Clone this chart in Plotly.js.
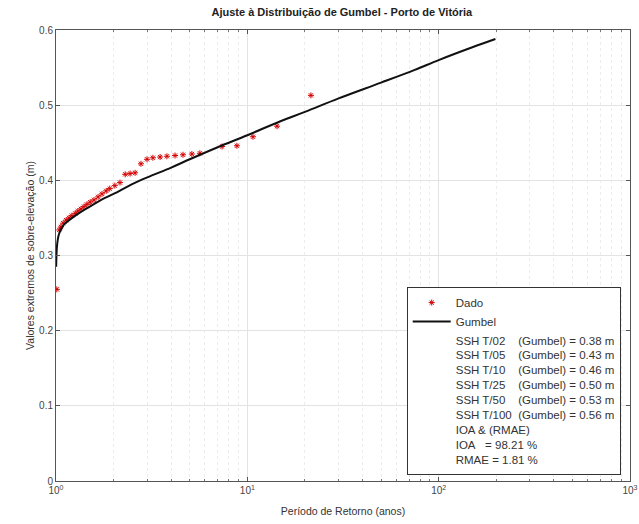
<!DOCTYPE html>
<html>
<head>
<meta charset="utf-8">
<script src="https://cdn.plot.ly/plotly-3.0.1.min.js"></script>
<style>html,body{margin:0;padding:0;background:#fff;}#chart{width:639px;height:524px;}</style>
</head>
<body>
<div id="chart"></div>
<script>
// Observed data (return period in years, value in m)
const T_data = [1.01, 1.04, 1.06, 1.09, 1.13, 1.17, 1.21, 1.26, 1.30, 1.35, 1.40, 1.45, 1.51, 1.58, 1.66, 1.74, 1.83, 1.91, 2.03, 2.16, 2.30, 2.44, 2.59, 2.78, 2.99, 3.21, 3.50, 3.80, 4.19, 4.61, 5.13, 5.65, 7.38, 8.82, 10.7, 14.3, 21.5];
const ssh_data = [0.255, 0.334, 0.338, 0.343, 0.347, 0.350, 0.353, 0.356, 0.359, 0.362, 0.365, 0.368, 0.371, 0.374, 0.378, 0.382, 0.386, 0.389, 0.393, 0.397, 0.408, 0.409, 0.410, 0.422, 0.428, 0.430, 0.431, 0.432, 0.433, 0.434, 0.435, 0.436, 0.445, 0.446, 0.458, 0.472, 0.513];
// Fitted Gumbel curve
const T_fit = [1.002, 1.005, 1.01, 1.02, 1.03, 1.05, 1.1, 1.2, 1.35, 1.5, 1.75, 2, 2.5, 3, 4, 5, 7, 10, 15, 20, 30, 50, 75, 100, 150, 198];
const ssh_fit = [0.285, 0.298, 0.310, 0.320, 0.326, 0.332, 0.341, 0.349, 0.358, 0.365, 0.375, 0.382, 0.395, 0.404, 0.417, 0.428, 0.444, 0.460, 0.479, 0.491, 0.509, 0.530, 0.547, 0.560, 0.577, 0.588];
// Return levels shown in the legend
const returnPeriods = ['02', '05', '10', '25', '50', '100'];
const returnLevels = [0.38, 0.43, 0.46, 0.50, 0.53, 0.56];
const IOA = 98.21;
const RMAE = 1.81;
// Axis ticks
const xTickVals = [1, 10, 100, 1000];
const xTickText = ['10<sup>0</sup>', '10<sup>1</sup>', '10<sup>2</sup>', '10<sup>3</sup>'];
const yTickVals = [0, 0.1, 0.2, 0.3, 0.4, 0.5, 0.6];
const yTickText = ['0', '0.1', '0.2', '0.3', '0.4', '0.5', '0.6'];

const nb = '\u00A0';
const statLines = returnPeriods.map((p, i) => {
  const label = 'SSH T/' + p;
  const pad = nb.repeat(p.length === 3 ? 2 : 4);
  return label + pad + '(Gumbel) = ' + returnLevels[i].toFixed(2) + ' m';
});
statLines.push('IOA & (RMAE)');
statLines.push('IOA' + nb.repeat(3) + '= ' + IOA.toFixed(2) + ' %');
statLines.push('RMAE = ' + RMAE.toFixed(2) + ' %');

const minorVals = [];
for (let d = 1; d < 1000; d *= 10) for (let k = 2; k <= 9; k++) minorVals.push(k * d);

const traces = [
  {x: T_data, y: ssh_data, type: 'scatter', mode: 'markers', name: 'Dado',
   marker: {symbol: 'asterisk-open', size: 5, color: '#d40000', line: {color: '#d40000', width: 1}}},
  {x: T_fit, y: ssh_fit, type: 'scatter', mode: 'lines', name: 'Gumbel',
   line: {color: '#111', width: 2, shape: 'spline'}},
  {x: [null], y: [null], type: 'scatter', mode: 'none', name: statLines.join('<br>'), hoverinfo: 'skip'}
];

const axisCommon = {
  showline: true, linecolor: '#555', linewidth: 1, mirror: 'ticks',
  ticks: 'inside', ticklen: 4, tickcolor: '#555',
  tickfont: {family: 'Liberation Sans, Arial, sans-serif', size: 10, color: '#444'},
  showgrid: true, gridcolor: '#e3e3e3', gridwidth: 1, zeroline: false
};

const layout = {
  width: 639, height: 524,
  margin: {l: 56, r: 9, t: 30, b: 43},
  paper_bgcolor: '#fff', plot_bgcolor: '#fff',
  showlegend: true,
  title: {text: '<b>Ajuste à Distribuição de Gumbel - Porto de Vitória</b>',
    font: {family: 'Liberation Sans, Arial, sans-serif', size: 11, color: '#222'},
    x: 0.535, xanchor: 'center', y: 0.976, yanchor: 'middle'},
  xaxis: Object.assign({}, axisCommon, {
    type: 'log', range: [0, 3], tickmode: 'array', tickvals: xTickVals, ticktext: xTickText,
    minor: {tickmode: 'array', tickvals: minorVals, ticks: 'inside', ticklen: 2, tickcolor: '#777',
      showgrid: true, gridcolor: '#ececec', griddash: 'dot', gridwidth: 1},
    title: {text: 'Período de Retorno (anos)', standoff: 12,
      font: {family: 'Liberation Sans, Arial, sans-serif', size: 10.5, color: '#333'}}
  }),
  yaxis: Object.assign({}, axisCommon, {
    range: [0, 0.6], tickmode: 'array', tickvals: yTickVals, ticktext: yTickText,
    title: {text: 'Valores extremos de sobre-elevação (m)', standoff: 2,
      font: {family: 'Liberation Sans, Arial, sans-serif', size: 10.5, color: '#333'}}
  }),
  legend: {x: 0.611, y: 0.43, xanchor: 'left', yanchor: 'top',
    bgcolor: '#fff', bordercolor: '#333', borderwidth: 1,
    font: {family: 'Liberation Sans, Arial, sans-serif', size: 11.5, color: '#333'},
    itemwidth: 38, tracegroupgap: 0}
};

Plotly.newPlot('chart', traces, layout, {displayModeBar: false, staticPlot: true});
</script>
</body>
</html>
